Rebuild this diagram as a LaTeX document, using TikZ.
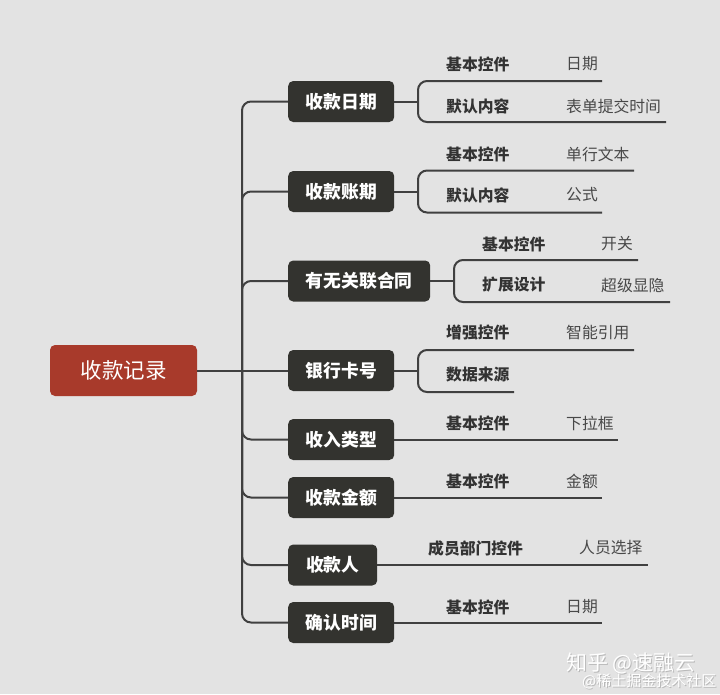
\documentclass[tikz,border=0pt]{standalone}
\usepackage{fontspec}
\setmainfont{Noto Sans CJK SC}
\definecolor{bg}{HTML}{E3E3E3}
\definecolor{dark}{HTML}{33332F}
\definecolor{rootred}{HTML}{A83A2B}
\definecolor{linec}{HTML}{404040}
\definecolor{labc}{HTML}{333333}
\definecolor{valc}{HTML}{484848}
\tikzset{
 rootbox/.style={fill=rootred, rounded corners=5pt, text=white, font=\fontsize{21.5}{24}\selectfont, minimum width=147pt, minimum height=51pt, inner sep=0pt},
 topic/.style={fill=dark, rounded corners=5pt, text=white, font=\bfseries\fontsize{17.8}{20}\selectfont, minimum height=41pt, inner sep=0pt, anchor=west},
 lab/.style={text=labc, font=\bfseries\fontsize{15.8}{18}\selectfont, anchor=west, inner sep=0pt},
 val/.style={text=valc, font=\fontsize{15.8}{18}\selectfont, anchor=west, inner sep=0pt},
 conn/.style={draw=linec, line width=2pt},
 fork/.style={conn, rounded corners=9pt},
 wm/.style={anchor=west, inner sep=0pt},
}
\begin{document}
\begin{tikzpicture}[x=1pt,y=-1pt]
\fill[bg] (0,0) rectangle (720,694);
\useasboundingbox (0,0) rectangle (720,694);

% root and topics
\node[rootbox] (root) at (123.5,370.5) {收款记录};
\node[topic, minimum width=106pt] (t1) at (288,101.5) {收款日期};
\node[topic, minimum width=106pt] (t2) at (288,191.5) {收款账期};
\node[topic, minimum width=142pt] (t3) at (288,281) {有无关联合同};
\node[topic, minimum width=106pt] (t4) at (288,370.5) {银行卡号};
\node[topic, minimum width=106pt] (t5) at (288,439.5) {收入类型};
\node[topic, minimum width=106pt] (t6) at (288,497.5) {收款金额};
\node[topic, minimum width=89pt] (t7) at (288,565) {收款人};
\node[topic, minimum width=106pt] (t8) at (288,622.5) {确认时间};

\coordinate (J) at (242,370.5);
\draw[conn] (root.east) -- (t4.west);
\foreach \t in {t1,t2,t3,t5,t6,t7,t8}{
  \draw[fork] (J) |- (\t.west);
}

% t1
\coordinate (k1) at (418,101.5);
\coordinate (f1a) at (418,81); \coordinate (f1b) at (418,122);
\coordinate (e1a) at (602,81); \coordinate (e1b) at (666,122);
\draw[conn] (t1.east) -- (k1);
\draw[fork] (e1a) -- (f1a) -- (f1b) -- (e1b);
\node[lab] (l1a) at (446,64) {基本控件};
\node[val] (v1a) at (566,64) {日期};
\node[lab] (l1b) at (446,106) {默认内容};
\node[val] (v1b) at (566,106) {表单提交时间};

% t2
\coordinate (k2) at (418,191.5);
\coordinate (f2a) at (418,170.5); \coordinate (f2b) at (418,212.5);
\coordinate (e2a) at (634,170.5); \coordinate (e2b) at (602,212.5);
\draw[conn] (t2.east) -- (k2);
\draw[fork] (e2a) -- (f2a) -- (f2b) -- (e2b);
\node[lab] (l2a) at (446,154) {基本控件};
\node[val] (v2a) at (566,154) {单行文本};
\node[lab] (l2b) at (446,195) {默认内容};
\node[val] (v2b) at (566,195) {公式};

% t3
\coordinate (k3) at (454,281);
\coordinate (f3a) at (454,260); \coordinate (f3b) at (454,302);
\coordinate (e3a) at (638,260); \coordinate (e3b) at (670,302);
\draw[conn] (t3.east) -- (k3);
\draw[fork] (e3a) -- (f3a) -- (f3b) -- (e3b);
\node[lab] (l3a) at (482,244) {基本控件};
\node[val] (v3a) at (601,244) {开关};
\node[lab] (l3b) at (482,285) {扩展设计};
\node[val] (v3b) at (601,285) {超级显隐};

% t4
\coordinate (k4) at (418,370.5);
\coordinate (f4a) at (418,350); \coordinate (f4b) at (418,392);
\coordinate (e4a) at (634,350); \coordinate (e4b) at (514,392);
\draw[conn] (t4.east) -- (k4);
\draw[fork] (e4a) -- (f4a) -- (f4b) -- (e4b);
\node[lab] (l4a) at (446,333) {增强控件};
\node[val] (v4a) at (566,333) {智能引用};
\node[lab] (l4b) at (446,375) {数据来源};

% t5
\coordinate (e5) at (618,439.5);
\draw[conn] (t5.east) -- (e5);
\node[lab] (l5) at (446,423) {基本控件};
\node[val] (v5) at (566,423) {下拉框};

% t6
\coordinate (e6) at (602,497.5);
\draw[conn] (t6.east) -- (e6);
\node[lab] (l6) at (446,481) {基本控件};
\node[val] (v6) at (566,481) {金额};

% t7
\coordinate (e7) at (648,565);
\draw[conn] (t7.east) -- (e7);
\node[lab] (l7) at (428,548) {成员部门控件};
\node[val] (v7) at (579,548) {人员选择};

% t8
\coordinate (e8) at (602,622.5);
\draw[conn] (t8.east) -- (e8);
\node[lab] (l8) at (446,607) {基本控件};
\node[val] (v8) at (566,607) {日期};

% watermark
\node[wm, text=gray!55, font=\fontsize{21}{24}\selectfont] (wm1s) at (567,664) {知乎 @速融云};
\node[wm, text=white, font=\fontsize{21}{24}\selectfont] (wm1) at (566,663) {知乎 @速融云};
\node[wm, text=gray!55, font=\fontsize{15}{18}\selectfont] (wm2s) at (583,682) {@稀土掘金技术社区};
\node[wm, text=white, font=\fontsize{15}{18}\selectfont] (wm2) at (582,681) {@稀土掘金技术社区};
\end{tikzpicture}
\end{document}
